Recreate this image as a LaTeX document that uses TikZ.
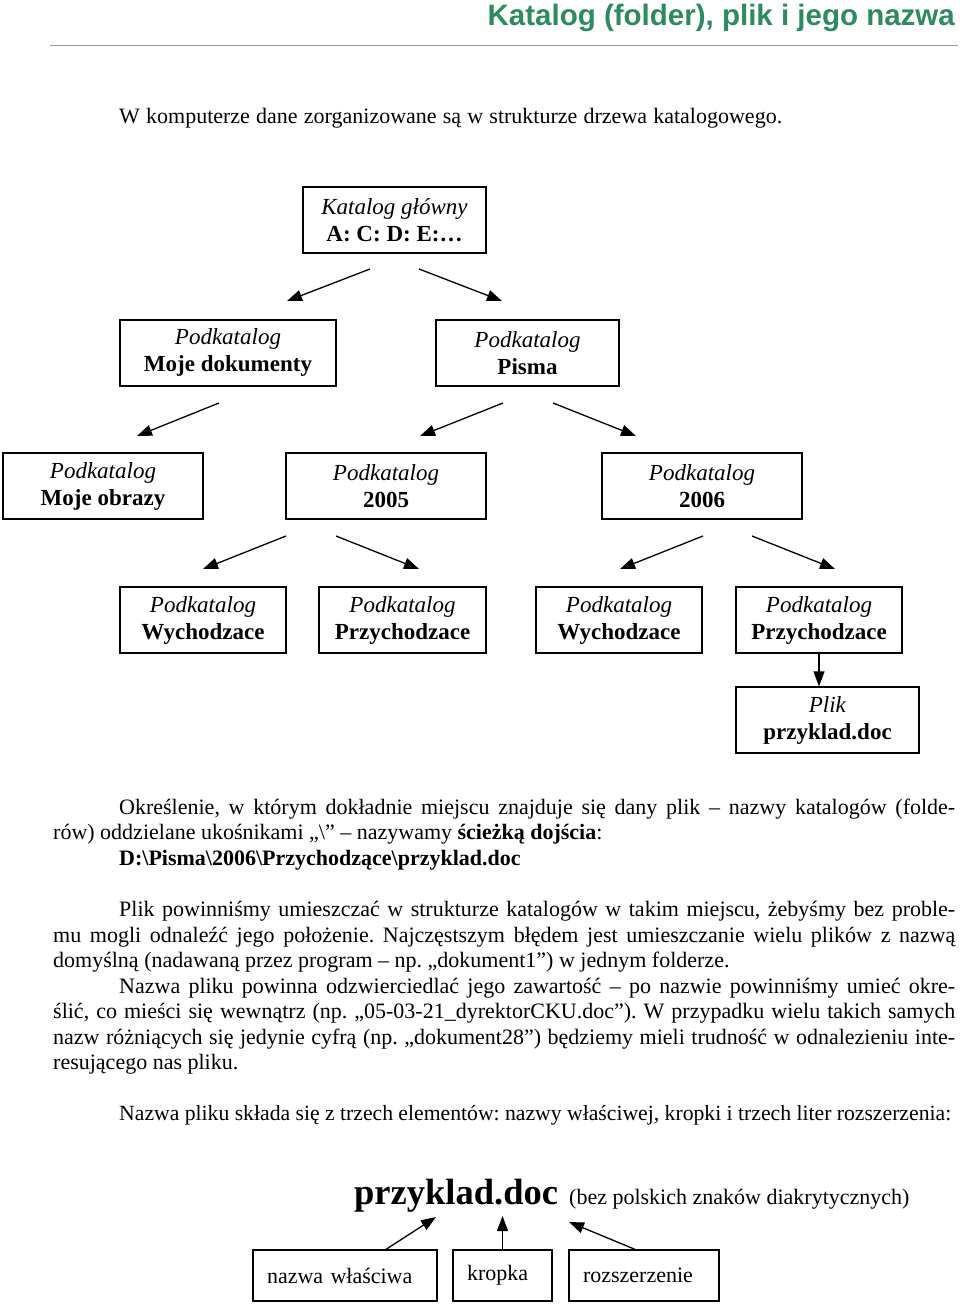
\documentclass[tikz,border=0pt]{standalone}
\usepackage{fontspec}
\setmainfont{Liberation Serif}
\newfontfamily\titlefont{Liberation Sans}
\usetikzlibrary{arrows.meta}
\definecolor{titlegreen}{RGB}{46,139,95}
\newcommand{\jline}[2]{\hbox to #1{#2}}
\begin{document}
\frenchspacing
\begin{tikzpicture}[x=1pt,y=-1pt,
  box/.style={draw, line width=1.3pt, minimum height=66pt, inner sep=0pt, align=center, font=\fontsize{23}{27}\selectfont},
  sbox/.style={draw, line width=1.3pt, minimum height=51pt, inner xsep=14pt, inner ysep=0pt, align=left, font=\fontsize{22}{24}\selectfont},
  txt/.style={anchor=base west, inner sep=0pt, font=\fontsize{22}{25}\selectfont},
  arr/.style={line width=1.3pt, -{Triangle[length=15pt,width=11pt]}}]
\path[use as bounding box, fill=white] (0,0) rectangle (960,1305);
% title
\node[anchor=base east, inner sep=0pt, text=titlegreen, font=\fontsize{29.5}{32}\selectfont\titlefont\bfseries] (title) at (955,26) {Katalog (folder), plik i jego nazwa};
\draw[gray!80, line width=1pt] (50,46) -- (958,46);
\node[txt] (intro) at (119,124) {\jline{663pt}{W komputerze dane zorganizowane są w strukturze drzewa katalogowego.}};
% tree
\node[box, minimum width=183pt] (root) at (394.5,220) {\textit{Katalog główny}\\\textbf{A: C: D: E:…}};
\node[box, minimum width=216pt] (mojedok) at (228,353) {\textit{Podkatalog}\\\textbf{Moje dokumenty}};
\node[box, minimum width=183pt] (pisma) at (527.5,353) {\textit{Podkatalog}\\\textbf{Pisma}};
\node[box, minimum width=200pt] (obrazy) at (103,486) {\textit{Podkatalog}\\\textbf{Moje obrazy}};
\node[box, minimum width=200pt] (r2005) at (386,486) {\textit{Podkatalog}\\\textbf{2005}};
\node[box, minimum width=200pt] (r2006) at (702,486) {\textit{Podkatalog}\\\textbf{2006}};
\node[box, minimum width=166pt] (wych1) at (203,620) {\textit{Podkatalog}\\\textbf{Wychodzace}};
\node[box, minimum width=167pt] (przy1) at (402.5,620) {\textit{Podkatalog}\\\textbf{Przychodzace}};
\node[box, minimum width=166pt] (wych2) at (619,620) {\textit{Podkatalog}\\\textbf{Wychodzace}};
\node[box, minimum width=166pt] (przy2) at (819,620) {\textit{Podkatalog}\\\textbf{Przychodzace}};
\node[box, minimum width=183pt] (plik) at (827.5,720) {\textit{Plik}\\\textbf{przyklad.doc}};
% arrow end points
\coordinate (a1s) at (370,269); \coordinate (a1e) at (287,301);
\coordinate (a2s) at (419,269); \coordinate (a2e) at (502,301);
\coordinate (b1s) at (219,403); \coordinate (b1e) at (137,436);
\coordinate (b2s) at (503,403); \coordinate (b2e) at (420,436);
\coordinate (b3s) at (553,403); \coordinate (b3e) at (636,436);
\coordinate (c1s) at (286,536); \coordinate (c1e) at (203,569);
\coordinate (c2s) at (336,536); \coordinate (c2e) at (419,569);
\coordinate (c3s) at (703,536); \coordinate (c3e) at (620,569);
\coordinate (c4s) at (752,536); \coordinate (c4e) at (835,569);
\draw[arr] (a1s) -- (a1e);
\draw[arr] (a2s) -- (a2e);
\draw[arr] (b1s) -- (b1e);
\draw[arr] (b2s) -- (b2e);
\draw[arr] (b3s) -- (b3e);
\draw[arr] (c1s) -- (c1e);
\draw[arr] (c2s) -- (c2e);
\draw[arr] (c3s) -- (c3e);
\draw[arr] (c4s) -- (c4e);
\draw[arr] (przy2.south) -- (przy2.south |- plik.north);
% paragraph 2
\node[txt] (p2a) at (119,814) {\jline{836pt}{Określenie, w którym dokładnie miejscu znajduje się dany plik – nazwy katalogów (folde-}};
\node[txt] (p2b) at (53,839) {rów) oddzielane ukośnikami „\textbackslash” – nazywamy \textbf{ścieżką dojścia}:};
\node[txt] (p2c) at (119,865) {\textbf{D:\textbackslash Pisma\textbackslash 2006\textbackslash Przychodzące\textbackslash przyklad.doc}};
% paragraph 3
\node[txt] (p3a) at (119,916) {\jline{836pt}{Plik powinniśmy umieszczać w strukturze katalogów w takim miejscu, żebyśmy bez proble-}};
\node[txt] (p3b) at (53,942) {\jline{902pt}{mu mogli odnaleźć jego położenie. Najczęstszym błędem jest umieszczanie wielu plików z nazwą}};
\node[txt] (p3c) at (53,967) {domyślną (nadawaną przez program – np. „dokument1”) w jednym folderze.};
\node[txt] (p3d) at (119,993) {\jline{836pt}{Nazwa pliku powinna odzwierciedlać jego zawartość – po nazwie powinniśmy umieć okre-}};
\node[txt] (p3e) at (53,1018) {\jline{902pt}{ślić, co mieści się wewnątrz (np. „05-03-21\_dyrektorCKU.doc”). W przypadku wielu takich samych}};
\node[txt] (p3f) at (53,1044) {\jline{902pt}{nazw różniących się jedynie cyfrą (np. „dokument28”) będziemy mieli trudność w odnalezieniu inte-}};
\node[txt] (p3g) at (53,1069) {resującego nas pliku.};
% paragraph 4
\node[txt, font=\fontsize{21.7}{25}\selectfont] (p4) at (119,1120) {\jline{832pt}{Nazwa pliku składa się z trzech elementów: nazwy właściwej, kropki i trzech liter rozszerzenia:}};
% file name parts
\node[anchor=base west, inner sep=0pt, font=\fontsize{36.5}{40}\selectfont\bfseries] (word) at (354,1204) {przyklad.doc};
\node[anchor=base west, inner sep=0pt, font=\fontsize{22}{25}\selectfont] (note) at (569,1204) {(bez polskich znaków diakrytycznych)};
\node[sbox, text width=156pt] (nazwa) at (345,1275.5) {nazwa właściwa};
\node[sbox, text width=71pt] (kropka) at (502.5,1275.5) {kropka};
\node[sbox, text width=122pt] (rozsz) at (644,1275.5) {rozszerzenie};
\coordinate (d1e) at (436,1217);
\coordinate (d2e) at (502.5,1216);
\coordinate (d3e) at (569,1222);
\draw[arr] (nazwa.north -| 386,0) -- (d1e);
\draw[arr] (kropka.north) -- (d2e);
\draw[arr] (rozsz.north -| 635,0) -- (d3e);
\end{tikzpicture}
\end{document}
